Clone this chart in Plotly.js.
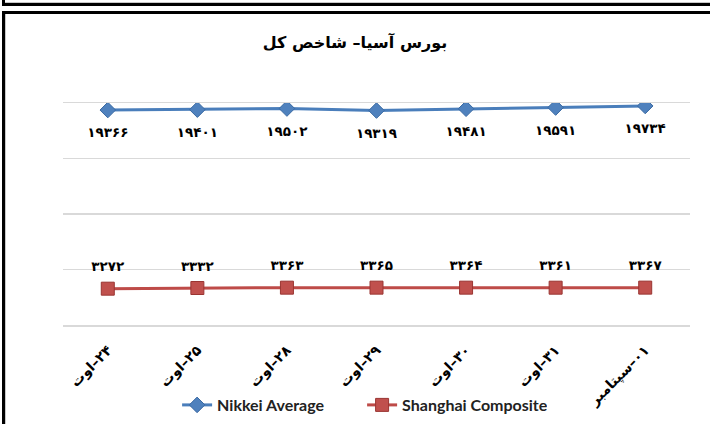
<!DOCTYPE html>
<html>
<head>
<meta charset="utf-8">
<script src="https://cdn.plot.ly/plotly-3.0.1.min.js"></script>
<style>
  html, body { margin: 0; padding: 0; background: #fff; }
  #wrap { position: relative; width: 710px; height: 424px; overflow: hidden; }
  #chart { position: absolute; left: 0; top: 0; width: 710px; height: 424px; }
  .ln { position: absolute; background: #000; }
  .sh { position: absolute; background: #c8c8c8; }
</style>
</head>
<body>
<div id="wrap">
  <div id="chart"></div>
  <div class="sh" style="left:3px; top:2px; width:707px; height:1px;"></div>
  <div class="ln" style="left:3px; top:3px; width:707px; height:3px;"></div>
  <div class="ln" style="left:2px; top:0px; width:3px; height:6px;"></div>
  <div class="ln" style="left:3px; top:11px; width:707px; height:3px;"></div>
  <div class="ln" style="left:2px; top:11px; width:3px; height:413px;"></div>
  <div class="sh" style="left:5px; top:14px; width:1px; height:410px;"></div>
</div>
<script>
// ---- data ----
var categories = ["۲۴–اوت", "۲۵–اوت", "۲۸–اوت", "۲۹–اوت", "۳۰–اوت", "۳۱–اوت", "۰۱–سپتامبر"];
var nikkeiName = "Nikkei Average";
var nikkeiValues = [19366, 19401, 19502, 19319, 19481, 19591, 19734];
var shanghaiName = "Shanghai Composite";
var shanghaiValues = [3272, 3332, 3363, 3365, 3364, 3361, 3367];
var chartTitle = "بورس آسیا– شاخص کل";
var yTicks = [0, 5000, 10000, 15000, 20000];

function toFa(n) {
  var d = "۰۱۲۳۴۵۶۷۸۹";
  return String(n).replace(/[0-9]/g, function (c) { return d[+c]; });
}
var RLM = "\u200F";
var catLabels = categories.map(function (c) { return RLM + c; });

var arFont = "DejaVu Sans, Noto Sans, sans-serif";
var labelFont = { family: arFont, size: 13.5, color: "#000", weight: "bold" };

var traces = [
  {
    x: catLabels, y: nikkeiValues, name: nikkeiName,
    type: "scatter", mode: "lines+markers",
    line: { color: "#4a7ebb", width: 3 },
    marker: { symbol: "diamond", size: 12, color: "#4f81bd", line: { color: "#3a6aa3", width: 1 } }
  },
  {
    x: catLabels, y: shanghaiValues, name: shanghaiName,
    type: "scatter", mode: "lines+markers",
    line: { color: "#be4b48", width: 3 },
    marker: { symbol: "square", size: 13, color: "#c0504d", line: { color: "#9a3532", width: 1 } }
  },
  {
    x: catLabels, y: nikkeiValues, showlegend: false, hoverinfo: "skip",
    type: "scatter", mode: "markers+text",
    marker: { size: 26, color: "rgba(0,0,0,0)" },
    text: nikkeiValues.map(toFa), textposition: "bottom center",
    textfont: labelFont, cliponaxis: false
  },
  {
    x: catLabels, y: shanghaiValues, showlegend: false, hoverinfo: "skip",
    type: "scatter", mode: "markers+text",
    marker: { size: 21, color: "rgba(0,0,0,0)" },
    text: shanghaiValues.map(toFa), textposition: "top center",
    textfont: labelFont, cliponaxis: false
  }
];

var layout = {
  width: 710, height: 424,
  margin: { l: 63, r: 20, t: 103, b: 99 },
  paper_bgcolor: "rgba(0,0,0,0)", plot_bgcolor: "#fff",
  title: {
    text: chartTitle, x: 0.5, xref: "container", xanchor: "center",
    y: 1 - 42 / 424, yref: "container", yanchor: "middle",
    font: { family: arFont, size: 16, color: "#000", weight: "bold" }
  },
  xaxis: {
    type: "category", range: [-0.5, categories.length - 0.5],
    showgrid: false, zeroline: false,
    showline: true, mirror: true, linecolor: "#d9d9d9", linewidth: 1.5,
    tickangle: -45, ticks: "", ticklabelstandoff: 10,
    tickfont: { family: arFont, size: 14, color: "#000", weight: "bold" }
  },
  yaxis: {
    range: [0, 20000], tickvals: yTicks, showticklabels: false,
    showgrid: true, gridcolor: "#d9d9d9", gridwidth: 1.5,
    zeroline: false, showline: false, ticks: ""
  },
  showlegend: true,
  legend: {
    orientation: "h", x: 0.51, xref: "container", xanchor: "center",
    y: 1 - 405 / 424, yref: "container", yanchor: "middle",
    font: { family: "Lato, Open Sans, sans-serif", size: 16, color: "#222", weight: "bold" },
    itemwidth: 30, entrywidth: 140, entrywidthmode: "pixels",
    tracegroupgap: 0, bgcolor: "rgba(0,0,0,0)"
  }
};

Plotly.newPlot("chart", traces, layout, { displayModeBar: false, staticPlot: true });
</script>
</body>
</html>
